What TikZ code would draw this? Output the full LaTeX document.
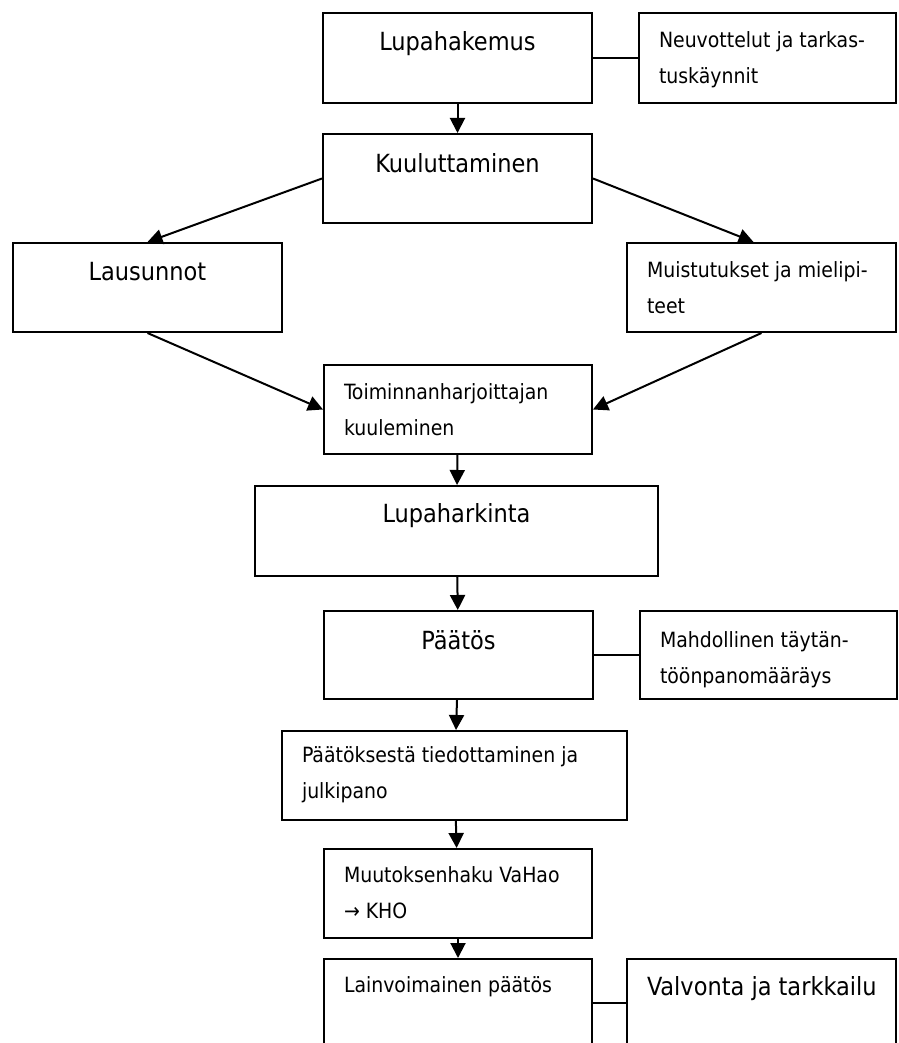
\documentclass[tikz,border=0pt]{standalone}
\usepackage{fontspec}
\setmainfont{DejaVu Sans Condensed}
\usetikzlibrary{positioning}
\usetikzlibrary{arrows.meta}

\begin{document}
\begin{tikzpicture}[x=1pt,y=-1pt,line width=2pt,
  >={Triangle[length=15pt,width=15pt]},
  box/.style 2 args={draw,rectangle,inner sep=0pt,minimum width=#1,minimum height=#2},
  bigtxt/.style={inner sep=0pt,font=\fontsize{25}{30}\selectfont},
  smalltxt/.style={inner sep=0pt,align=left,font=\fontsize{21}{36}\selectfont}]
\clip (0,0) rectangle (898,1043);
% boxes
\node[box={269pt}{90pt}] (hakemus) at (457.5,58) {};
\node[box={257pt}{90pt}] (neuvot) at (767.5,58) {};
\node[box={269pt}{89pt}] (kuulutus) at (457.5,178.5) {};
\node[box={269pt}{89pt}] (lausunnot) at (147.5,287.5) {};
\node[box={269pt}{89pt}] (muistutus) at (761.5,287.5) {};
\node[box={268pt}{89pt}] (kuuleminen) at (458,409.5) {};
\node[box={403pt}{90pt}] (harkinta) at (456.5,531) {};
\node[box={269pt}{88pt}] (paatos) at (458.5,655) {};
\node[box={257pt}{88pt}] (taytanto) at (768.5,655) {};
\node[box={345pt}{89pt}] (tiedotus) at (454.5,775.5) {};
\node[box={268pt}{89pt}] (muutos) at (458,893.5) {};
\node[box={268pt}{88pt}] (lainvoima) at (458,1003) {};
\node[box={269pt}{88pt}] (valvonta) at (761.5,1003) {};
% texts
\node[bigtxt,below=19pt of hakemus.north] (hakemus-txt) {Lupahakemus};
\node[smalltxt,below right=19pt and 20pt of neuvot.north west] (neuvot-txt) {Neuvottelut ja tarkas-\\tuskäynnit};
\node[bigtxt,below=20pt of kuulutus.north] (kuulutus-txt) {Kuuluttaminen};
\node[bigtxt,below=19pt of lausunnot.north] (lausunnot-txt) {Lausunnot};
\node[smalltxt,below right=19pt and 20pt of muistutus.north west] (muistutus-txt) {Muistutukset ja mielipi-\\teet};
\node[smalltxt,below right=19pt and 20pt of kuuleminen.north west] (kuuleminen-txt) {Toiminnanharjoittajan\\kuuleminen};
\node[bigtxt,below=18pt of harkinta.north] (harkinta-txt) {Lupaharkinta};
\node[bigtxt,below=20pt of paatos.north] (paatos-txt) {Päätös};
\node[smalltxt,below right=21pt and 20pt of taytanto.north west] (taytanto-txt) {Mahdollinen täytän-\\töönpanomääräys};
\node[smalltxt,below right=16pt and 20pt of tiedotus.north west] (tiedotus-txt) {Päätöksestä tiedottaminen ja\\julkipano};
\node[smalltxt,below right=18pt and 20pt of muutos.north west] (muutos-txt) {Muutoksenhaku VaHao\\→ KHO};
\node[smalltxt,below right=18pt and 20pt of lainvoima.north west] (lainvoima-txt) {Lainvoimainen päätös};
\node[bigtxt,below right=17pt and 20pt of valvonta.north west] (valvonta-txt) {Valvonta ja tarkkailu};
% connectors
\path[->] (hakemus) edge (kuulutus);
\path (hakemus) edge (neuvot);
\path[->] (kuulutus.west) edge (lausunnot.north);
\path[->] (kuulutus.east) edge ([xshift=-8pt]muistutus.north);
\path[->] (lausunnot.south) edge (kuuleminen.west);
\path[->] (muistutus.south) edge (kuuleminen.east);
\path[->] (kuuleminen) edge (harkinta);
\path[->] (harkinta) edge (paatos);
\path (paatos) edge (taytanto);
\path[->] (paatos) edge (tiedotus);
\path[->] (tiedotus) edge (muutos);
\path[->] (muutos) edge (lainvoima);
\path (lainvoima) edge (valvonta);
\end{tikzpicture}
\end{document}
